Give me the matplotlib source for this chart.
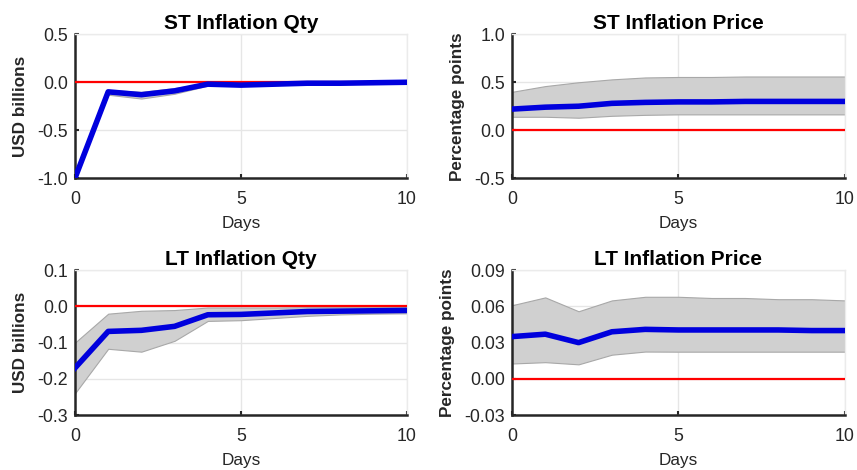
import matplotlib
matplotlib.use("Agg")
import matplotlib.pyplot as plt
from matplotlib.ticker import FormatStrFormatter

plt.rcParams['font.family'] = ['Liberation Sans', 'DejaVu Sans']
plt.rcParams['axes.unicode_minus'] = False

# horizon (days)
days = [0, 1, 2, 3, 4, 5, 6, 7, 8, 9, 10]

# ST inflation quantity
st_qty = [-1.0, -0.10, -0.13, -0.09, -0.02, -0.03, -0.02, -0.01, -0.01, -0.005, 0.0]
st_qty_lo = [-1.0, -0.13, -0.17, -0.12, -0.035, -0.04, -0.03, -0.02, -0.02, -0.015, -0.01]
st_qty_hi = [-1.0, -0.08, -0.10, -0.06, -0.01, -0.02, -0.01, 0.0, 0.0, 0.005, 0.01]

# ST inflation price
st_price = [0.22, 0.24, 0.25, 0.28, 0.29, 0.295, 0.295, 0.30, 0.30, 0.30, 0.30]
st_price_lo = [0.14, 0.14, 0.13, 0.15, 0.16, 0.165, 0.165, 0.165, 0.165, 0.165, 0.165]
st_price_hi = [0.40, 0.46, 0.50, 0.53, 0.55, 0.555, 0.555, 0.56, 0.56, 0.56, 0.56]

# LT inflation quantity
lt_qty = [-0.170, -0.069, -0.066, -0.055, -0.023, -0.022, -0.018, -0.014, -0.013, -0.012, -0.011]
lt_qty_lo = [-0.240, -0.117, -0.125, -0.095, -0.040, -0.038, -0.032, -0.026, -0.022, -0.020, -0.019]
lt_qty_hi = [-0.100, -0.020, -0.012, -0.010, -0.003, -0.003, -0.003, -0.002, -0.002, -0.002, -0.002]

# LT inflation price
lt_price = [0.035, 0.037, 0.030, 0.039, 0.041, 0.0405, 0.0405, 0.0405, 0.0405, 0.040, 0.040]
lt_price_lo = [0.0127, 0.0138, 0.012, 0.020, 0.0226, 0.0225, 0.0225, 0.0225, 0.0225, 0.0225, 0.0225]
lt_price_hi = [0.061, 0.0675, 0.056, 0.065, 0.068, 0.068, 0.067, 0.067, 0.066, 0.066, 0.065]

panels = [
    ("ST Inflation Qty", "USD billions", st_qty, st_qty_lo, st_qty_hi,
     (-1.0, 0.5), [-1.0, -0.5, 0.0, 0.5], '%.1f'),
    ("ST Inflation Price", "Percentage points", st_price, st_price_lo, st_price_hi,
     (-0.5, 1.0), [-0.5, 0.0, 0.5, 1.0], '%.1f'),
    ("LT Inflation Qty", "USD billions", lt_qty, lt_qty_lo, lt_qty_hi,
     (-0.3, 0.1), [-0.3, -0.2, -0.1, 0.0, 0.1], '%.1f'),
    ("LT Inflation Price", "Percentage points", lt_price, lt_price_lo, lt_price_hi,
     (-0.03, 0.09), [-0.03, 0.0, 0.03, 0.06, 0.09], '%.2f'),
]

# axes rectangles in figure fractions
rects = [
    [0.0875, 0.621, 0.3874, 0.306],
    [0.5974, 0.621, 0.3886, 0.306],
    [0.0875, 0.117, 0.3874, 0.308],
    [0.5974, 0.117, 0.3886, 0.308],
]

fig = plt.figure(figsize=(8.57, 4.70), dpi=100)

for rect, (title, ylabel, y, lo, hi, ylim, yticks, fmt) in zip(rects, panels):
    ax = fig.add_axes(rect)
    ax.fill_between(days, lo, hi, facecolor='#d0d0d0', edgecolor='#a8a8a8',
                    linewidth=0.8, zorder=2)
    ax.axhline(0, color='#ff0000', linewidth=1.6, zorder=3)
    ax.plot(days, y, color='#0000dd', linewidth=4.0, zorder=4)

    ax.set_xlim(0, 10)
    ax.set_ylim(*ylim)
    ax.set_xticks([0, 5, 10])
    ax.set_yticks(yticks)
    ax.yaxis.set_major_formatter(FormatStrFormatter(fmt))
    ax.grid(True, color='#e6e6e6', linewidth=1.0, zorder=0)
    ax.set_axisbelow(True)

    for side in ('top', 'right'):
        ax.spines[side].set_color('#ebebeb')
        ax.spines[side].set_linewidth(1.0)
    for side in ('left', 'bottom'):
        ax.spines[side].set_color('#262626')
        ax.spines[side].set_linewidth(1.8)
    ax.tick_params(direction='in', length=3, width=1.5, color='#262626',
                   labelsize=12.8, labelcolor='#262626')
    ax.tick_params(axis='y', pad=5)
    ax.tick_params(axis='x', pad=9)

    ax.set_title(title, fontsize=15, fontweight='bold', pad=4)
    ax.set_ylabel(ylabel, fontsize=12.3, fontweight='bold', color='#262626',
                  labelpad=7)
    ax.set_xlabel("Days", fontsize=12.3, color='#262626', labelpad=6)

fig.savefig("out.png", dpi=100)
